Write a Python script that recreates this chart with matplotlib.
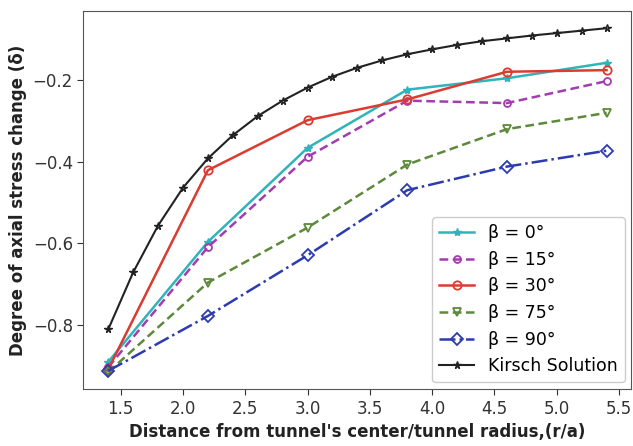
import matplotlib
matplotlib.use("Agg")
import matplotlib.pyplot as plt

x_beta = [1.4, 2.2, 3.0, 3.8, 4.6, 5.4]
beta_0 = [-0.892, -0.597, -0.366, -0.223, -0.195, -0.157]
beta_15 = [-0.905, -0.610, -0.388, -0.250, -0.256, -0.202]
beta_30 = [-0.910, -0.421, -0.298, -0.247, -0.179, -0.175]
beta_75 = [-0.917, -0.697, -0.562, -0.407, -0.320, -0.280]
beta_90 = [-0.914, -0.779, -0.630, -0.470, -0.412, -0.373]

x_kirsch = [1.4, 1.6, 1.8, 2.0, 2.2, 2.4, 2.6, 2.8, 3.0, 3.2, 3.4,
            3.6, 3.8, 4.0, 4.2, 4.4, 4.6, 4.8, 5.0, 5.2, 5.4]
kirsch = [-0.812, -0.672, -0.557, -0.464, -0.392, -0.335, -0.288, -0.250,
          -0.218, -0.191, -0.169, -0.151, -0.136, -0.124, -0.113, -0.104,
          -0.097, -0.090, -0.084, -0.078, -0.072]

labels = ["β = 0°", "β = 15°", "β = 30°", "β = 75°", "β = 90°", "Kirsch Solution"]

fig = plt.figure(figsize=(6.33, 4.46), dpi=100)
ax = fig.add_axes([0.1316, 0.1271, 0.866, 0.8482])

ax.plot(x_beta, beta_0, color="#2fb4b9", lw=1.8, marker="*", ms=6, label=labels[0])
ax.plot(x_beta, beta_15, color="#a33cb0", lw=1.8, ls=(0, (3.5, 1.8)), marker="o", ms=5,
        mfc="none", mew=1.3, label=labels[1])
ax.plot(x_beta, beta_30, color="#db3b30", lw=1.8, marker="o", ms=6,
        mfc="none", mew=1.3, label=labels[2])
ax.plot(x_beta, beta_75, color="#5c8a3a", lw=1.8, ls=(0, (3.5, 1.8)), marker="v", ms=6,
        mfc="none", mew=1.3, label=labels[3])
ax.plot(x_beta, beta_90, color="#2c3cb0", lw=1.8, ls="-.", marker="D", ms=6,
        mfc="none", mew=1.3, label=labels[4])
ax.plot(x_kirsch, kirsch, color="#222222", lw=1.5, marker="*", ms=5.5,
        mfc="none", mew=1.0, label=labels[5])

ax.set_xticks([1.5, 2.0, 2.5, 3.0, 3.5, 4.0, 4.5, 5.0, 5.5])
ax.set_yticks([-0.8, -0.6, -0.4, -0.2])
ax.tick_params(labelsize=12, colors="#333333", length=4)
for s in ax.spines.values():
    s.set_color("#555555")

ax.set_xlabel("Distance from tunnel's center/tunnel radius,(r/a)",
              fontsize=12, fontweight="bold", color="#222222")
ax.set_ylabel("Degree of axial stress change (δ)",
              fontsize=12, fontweight="bold", color="#222222")

ax.legend(loc="lower right", fontsize=12.5, handlelength=2.0, framealpha=1,
          borderaxespad=0.4)

fig.savefig("out.png", dpi=100)
